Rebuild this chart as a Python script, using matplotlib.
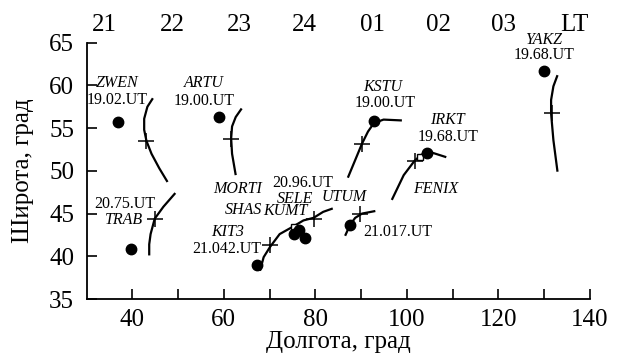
import matplotlib
matplotlib.use('Agg')
from matplotlib import pyplot as plt

plt.rcParams['font.family'] = ['Liberation Serif', 'DejaVu Serif']

#------------------------------------------------------------
# station positions (dots): lon, lat
dot_lon = [36.9, 58.9, 39.7, 67.2, 75.4, 76.5, 77.7, 87.6, 92.8, 104.3, 129.9]
dot_lat = [55.7, 56.3, 40.9, 39.0, 42.6, 43.1, 42.1, 43.7, 55.8, 52.1, 61.7]

# open squares
sq_lon = [75.4, 102.8]
sq_lat = [43.4, 51.6]

# trajectories (lon, lat)
zwen_lon = [44.5, 43.3, 42.6, 42.6, 43.1, 44.2, 45.9, 47.7]
zwen_lat = [58.5, 57.5, 56.1, 54.8, 53.5, 52.0, 50.3, 48.7]
artu_lon = [63.9, 62.6, 61.8, 61.6, 61.8, 62.6]
artu_lat = [57.3, 56.3, 55.2, 53.8, 52.0, 49.5]
trab_lon = [43.7, 43.7, 44.0, 44.9, 46.8, 49.4]
trab_lat = [40.1, 41.4, 42.6, 44.4, 45.8, 47.4]
kit3_lon = [67.9, 68.7, 70.1, 72.2, 75.2, 77.4, 79.6, 81.7, 83.8]
kit3_lat = [38.3, 39.9, 41.1, 42.6, 43.5, 44.2, 44.5, 45.2, 45.6]
utum_lon = [86.5, 87.6, 88.7, 90.2, 93.1]
utum_lat = [42.4, 43.7, 44.5, 45.0, 45.3]
kstu_lon = [87.1, 90.2, 91.5, 92.8, 94.9, 98.9]
kstu_lat = [49.2, 53.2, 54.6, 55.6, 56.0, 55.9]
irkt_lon = [96.7, 99.3, 101.7, 103.2, 105.1, 108.6]
irkt_lat = [46.6, 49.5, 51.2, 51.9, 52.2, 51.6]
yakz_lon = [132.9, 132.0, 131.5, 131.5, 132.0, 132.9]
yakz_lat = [61.2, 59.9, 58.3, 56.7, 53.6, 49.9]
curves = [(zwen_lon, zwen_lat), (artu_lon, artu_lat), (trab_lon, trab_lat),
          (kit3_lon, kit3_lat), (utum_lon, utum_lat), (kstu_lon, kstu_lat),
          (irkt_lon, irkt_lat), (yakz_lon, yakz_lat)]

# crosses on the trajectories
cross_lon = [43.1, 61.6, 44.9, 70.1, 79.6, 89.8, 90.2, 101.7, 131.6]
cross_lat = [53.5, 53.7, 44.4, 41.3, 44.4, 45.0, 53.2, 51.2, 56.8]

# labels: text, lon, lat, italic
labels = [
    ('ZWEN', 36.6, 60.3, True), ('19.02.UT', 36.6, 58.3, False),
    ('ARTU', 55.7, 60.3, True), ('19.00.UT', 55.7, 58.2, False),
    ('20.75.UT', 38.4, 46.1, False), ('TRAB', 38.1, 44.2, True),
    ('MORTI', 63.1, 47.9, True), ('SHAS', 64.2, 45.4, True),
    ('KUMT', 73.5, 45.3, True), ('SELE', 75.6, 46.7, True),
    ('20.96.UT', 77.2, 48.6, False), ('UTUM', 86.3, 46.9, True),
    ('KIT3', 60.8, 42.8, True), ('21.042.UT', 60.7, 40.9, False),
    ('21.017.UT', 97.9, 42.9, False),
    ('KSTU', 94.6, 59.8, True), ('19.00.UT', 95.2, 57.9, False),
    ('IRKT', 108.9, 55.9, True), ('19.68.UT', 108.9, 54.0, False),
    ('FENIX', 106.4, 47.9, True),
    ('YAKZ', 129.9, 65.35, True), ('19.68.UT', 129.9, 63.6, False),
]

# local time labels along the top
lt_lon = [33.8, 48.7, 63.3, 77.7, 92.4, 106.8, 121.2, 136.5]
lt_text = ['21', '22', '23', '24', '01', '02', '03', 'LT']

#------------------------------------------------------------
fig = plt.figure(figsize=(6.21, 3.6), dpi=100)
ax = fig.add_axes([0.1393, 0.1694, 0.8108, 0.712])

for lon, lat in curves:
    ax.plot(lon, lat, color='black', lw=1.6, solid_capstyle='butt')
ax.plot(cross_lon, cross_lat, ls='none', marker='+', ms=11, mew=1.1, color='black')
ax.plot(sq_lon, sq_lat, ls='none', marker='s', ms=5, mfc='white', mec='black', mew=1)
ax.plot(dot_lon, dot_lat, ls='none', marker='o', ms=7.5, color='black')

for txt, x, y, it in labels:
    ax.text(x, y, txt, ha='center', va='center', fontsize=11.5,
            style='italic' if it else 'normal', clip_on=False)

for x, txt in zip(lt_lon, lt_text):
    ax.text(x, 67.1, txt, ha='center', va='center', fontsize=18, clip_on=False)

ax.set_xlim(30, 140)
ax.set_ylim(35, 65)
ax.set_xticks([40, 60, 80, 100, 120, 140])
ax.set_xticks([50, 70, 90, 110, 130], minor=True)
ax.set_yticks([35, 40, 45, 50, 55, 60, 65])
ax.tick_params(which='both', direction='in', length=7, width=1.2, labelsize=18)
ax.tick_params(axis='x', which='both', pad=7)
ax.tick_params(axis='y', pad=9)
for s in ['top', 'right']:
    ax.spines[s].set_visible(False)
for s in ['left', 'bottom']:
    ax.spines[s].set_linewidth(1.3)

ax.set_xlabel('Долгота, град', fontsize=18, labelpad=0)
ax.set_ylabel('Широта, град', fontsize=18)
ax.yaxis.set_label_coords(-0.105, 0.5)

fig.savefig('out.png', dpi=100)
